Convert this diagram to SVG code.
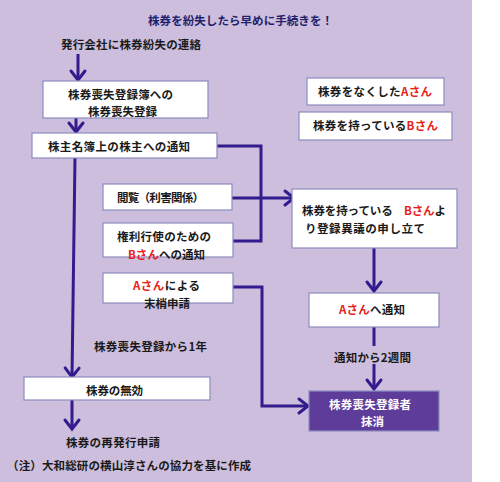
<svg xmlns="http://www.w3.org/2000/svg" width="500" height="482" viewBox="0 0 500 482">
<defs>
<marker id="arr" markerUnits="userSpaceOnUse" markerWidth="20" markerHeight="20" viewBox="-12 -10 14 20" refX="0" refY="0" orient="auto">
<path d="M-9,-7 L0,0 L-9,7" fill="none" stroke="#321b8c" stroke-width="3" stroke-linecap="round" stroke-linejoin="miter"/>
</marker>
<style>
text{font-family:"Noto Sans CJK JP","Noto Sans CJK SC",sans-serif;font-size:11.5px;font-weight:700;fill:#1a1a1a;}
.t{fill:#1f1f6b;font-size:11.5px;}
.r{fill:#e8201a;}
.w{fill:#ffffff;}
.box{fill:#ffffff;stroke:#8c8cbe;stroke-width:1.2;}
.dbox{fill:#5e3d9a;stroke:#8c8cbe;stroke-width:1.2;}
.c{fill:none;stroke:#321b8c;stroke-width:3;}
.ca{fill:none;stroke:#321b8c;stroke-width:3;marker-end:url(#arr);}
</style>
</defs>
<rect x="0" y="0" width="500" height="482" fill="#ffffff"/>
<rect x="0" y="0" width="472" height="482" fill="#cdbedd"/>
<text class="t" x="148" y="25" textLength="185">株券を紛失したら早めに手続きを！</text>

<g id="connectors">
<path class="ca" d="M78,54 L78,80"/>
<path class="ca" d="M76,118 L76,132"/>
<path class="c" d="M217,146 L261,146 L261,241 L233,241"/>
<path class="ca" d="M232,198 L294,198"/>
<path class="ca" d="M233,287 L262,287 L262,406 L308,406"/>
<path class="ca" d="M75,157 L72,377"/>
<path class="ca" d="M72,400 L72,429"/>
<path class="ca" d="M374,248 L374,291"/>
<path class="c" d="M374,327 L374,346"/>
<path class="ca" d="M374,364 L374,389"/>
</g>

<g id="n-start"><text x="61" y="49" textLength="140">発行会社に株券紛失の連絡</text></g>
<g id="n-register"><rect class="box" x="43" y="81" width="165" height="37"/>
<text x="68" y="99" textLength="105">株券喪失登録簿への</text>
<text x="88" y="116" textLength="69">株券喪失登録</text></g>
<g id="n-notify"><rect class="box" x="32" y="133" width="185" height="25"/>
<text x="48" y="151" textLength="142">株主名簿上の株主への通知</text></g>
<g id="n-view"><rect class="box" x="103" y="184" width="129" height="26"/>
<text x="117" y="202" textLength="87">閲覧（利害関係）</text></g>
<g id="n-right"><rect class="box" x="103" y="223" width="130" height="34"/>
<text x="117" y="241" textLength="94">権利行使のための</text>
<text x="128" y="259" textLength="77"><tspan class="r">Bさん</tspan>への通知</text></g>
<g id="n-cancel"><rect class="box" x="103" y="273" width="130" height="30"/>
<text x="133" y="290" textLength="67"><tspan class="r">Aさん</tspan>による</text>
<text x="144" y="308" textLength="46">末梢申請</text></g>
<g id="l-year"><text x="94" y="351" textLength="113">株券喪失登録から1年</text></g>
<g id="n-invalid"><rect class="box" x="24" y="377" width="186" height="23"/>
<text x="86" y="395" textLength="57">株券の無効</text></g>
<g id="n-reissue"><text x="66" y="447" textLength="94">株券の再発行申請</text></g>
<g id="note"><text x="7" y="470" textLength="244">（注）大和総研の横山淳さんの協力を基に作成</text></g>

<g id="legend-a"><rect class="box" x="307" y="78" width="137" height="27"/>
<text x="318" y="96" textLength="114">株券をなくした<tspan class="r">Aさん</tspan></text></g>
<g id="legend-b"><rect class="box" x="299" y="112" width="153" height="28"/>
<text x="313" y="130" textLength="125">株券を持っている<tspan class="r">Bさん</tspan></text></g>
<g id="n-objection"><rect class="box" x="292" y="189" width="165" height="59"/>
<text x="302" y="215" textLength="144">株券を持っている　<tspan class="r">Bさん</tspan>よ</text>
<text x="305" y="233" textLength="120">り登録異議の申し立て</text></g>
<g id="n-notifyA"><rect class="box" x="309" y="293" width="130" height="34"/>
<text x="339" y="314" textLength="66"><tspan class="r">Aさん</tspan>へ通知</text></g>
<g id="l-2w"><text x="334" y="362" textLength="77">通知から2週間</text></g>
<g id="n-erase"><rect class="dbox" x="309" y="391" width="130" height="40"/>
<text class="w" x="329" y="409" textLength="82">株券喪失登録者</text>
<text class="w" x="361" y="426" textLength="23">抹消</text></g>
</svg>
